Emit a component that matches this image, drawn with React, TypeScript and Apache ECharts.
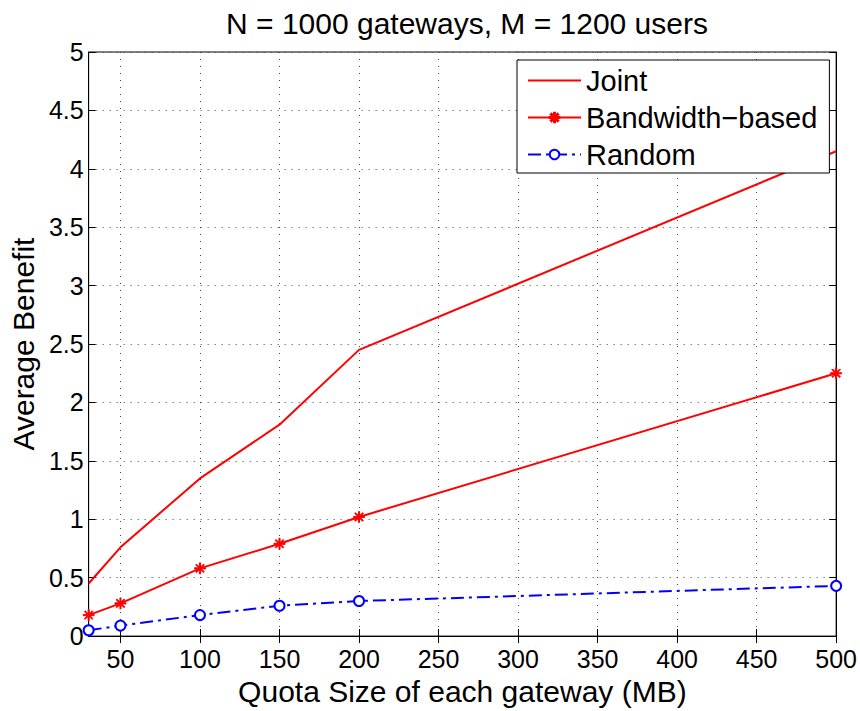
import React, { useEffect, useRef } from "react";
import * as echarts from "echarts";

const quotaSizes = [30, 50, 100, 150, 200, 500];
const jointBenefit = [0.45, 0.76, 1.35, 1.81, 2.45, 4.15];
const bandwidthBenefit = [0.18, 0.28, 0.58, 0.79, 1.02, 2.25];
const randomBenefit = [0.05, 0.09, 0.18, 0.26, 0.3, 0.43];
const xTicks = [50, 100, 150, 200, 250, 300, 350, 400, 450, 500];
const seriesNames = ["Joint", "Bandwidth\u2212based", "Random"];

const FONT = "'Liberation Sans', Arial, Helvetica, sans-serif";

const asteriskPath =
  "path://M0 9L20 9L20 11L0 11Z M9 0L11 0L11 20L9 20Z M2.2 3.6L3.6 2.2L17.8 16.4L16.4 17.8Z M16.4 2.2L17.8 3.6L3.6 17.8L2.2 16.4Z";

const pairs = (ys: number[]) => quotaSizes.map((x, i) => [x, ys[i]]);

export default function App() {
  const ref = useRef<HTMLDivElement>(null);
  useEffect(() => {
    if (!ref.current) return;
    document.body.style.margin = "0";
    const chart = echarts.init(ref.current, undefined, { renderer: "svg", width: 860, height: 711 });
    const gridLine = { show: true, lineStyle: { color: "#444", width: 1, type: [1, 6] as any } };
    chart.setOption({
      animation: false,
      backgroundColor: "#fff",
      textStyle: { fontFamily: FONT, color: "#000" },
      title: {
        text: "N = 1000 gateways, M = 1200 users",
        left: 462,
        top: 3,
        textAlign: "center",
        textStyle: { fontFamily: FONT, fontSize: 30, fontWeight: "normal", color: "#000" },
      },
      grid: { left: 87, width: 751, top: 52, height: 591, show: true, borderColor: "#000", borderWidth: 1 },
      legend: {
        orient: "vertical",
        left: 517,
        top: 60,
        padding: [6, 12, 4, 10],
        itemGap: 8,
        itemWidth: 53,
        itemHeight: 12,
        backgroundColor: "#fff",
        borderColor: "#000",
        borderWidth: 1,
        textStyle: { fontFamily: FONT, fontSize: 29, color: "#000" },
        data: [
          { name: seriesNames[0], itemStyle: { opacity: 0 } },
          { name: seriesNames[1] },
          { name: seriesNames[2] },
        ],
      },
      xAxis: [
        {
          type: "value",
          min: 30,
          max: 500,
          name: "Quota Size of each gateway (MB)",
          nameLocation: "middle",
          nameGap: 31,
          nameTextStyle: { fontFamily: FONT, fontSize: 30, color: "#000" },
          axisLine: { lineStyle: { color: "#000", width: 1 } },
          axisTick: { inside: true, length: 7, customValues: xTicks, lineStyle: { color: "#000" } },
          axisLabel: { customValues: xTicks, fontFamily: FONT, fontSize: 25, color: "#000", margin: 10 },
          splitLine: gridLine,
        },
        {
          type: "value",
          min: 30,
          max: 500,
          position: "top",
          axisLine: { lineStyle: { color: "#000", width: 1 } },
          axisTick: { inside: true, length: 7, customValues: xTicks, lineStyle: { color: "#000" } },
          axisLabel: { show: false },
          splitLine: { show: false },
        },
      ],
      yAxis: [
        {
          type: "value",
          min: 0,
          max: 5,
          interval: 0.5,
          name: "Average Benefit",
          nameLocation: "middle",
          nameGap: 47,
          nameTextStyle: { fontFamily: FONT, fontSize: 30, color: "#000" },
          axisLine: { show: true, lineStyle: { color: "#000", width: 1 } },
          axisTick: { show: true, inside: true, length: 7, lineStyle: { color: "#000" } },
          axisLabel: { fontFamily: FONT, fontSize: 25, color: "#000", margin: 5 },
          splitLine: gridLine,
        },
        {
          type: "value",
          min: 0,
          max: 5,
          interval: 0.5,
          position: "right",
          axisLine: { show: true, lineStyle: { color: "#000", width: 1 } },
          axisTick: { show: true, inside: true, length: 7, lineStyle: { color: "#000" } },
          axisLabel: { show: false },
          splitLine: { show: false },
        },
      ],
      series: [
        {
          name: seriesNames[0],
          type: "line",
          data: pairs(jointBenefit),
          showSymbol: false,
          symbol: "none",
          lineStyle: { color: "#ff0000", width: 2 },
          itemStyle: { color: "#ff0000" },
          z: 3,
        },
        {
          name: seriesNames[1],
          type: "line",
          data: pairs(bandwidthBenefit),
          symbol: asteriskPath,
          symbolSize: 11,
          lineStyle: { color: "#ff0000", width: 2 },
          itemStyle: { color: "#ff0000", borderColor: "#ff0000", borderWidth: 1 },
          z: 3,
        },
        {
          name: seriesNames[2],
          type: "line",
          data: pairs(randomBenefit),
          symbol: "emptyCircle",
          symbolSize: 10,
          lineStyle: { color: "#0000ff", width: 2, type: [13, 5, 3, 5] as any },
          itemStyle: { color: "#0000ff", borderColor: "#0000ff", borderWidth: 2 },
          z: 3,
        },
      ],
    });
    return () => chart.dispose();
  }, []);
  return <div ref={ref} style={{ width: 860, height: 711 }} />;
}
